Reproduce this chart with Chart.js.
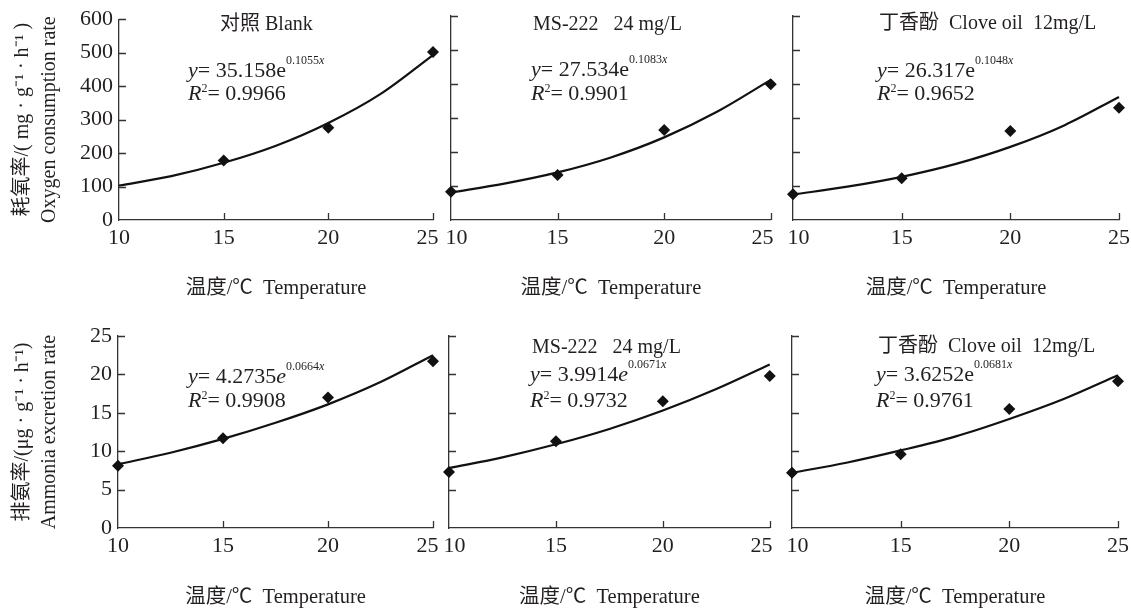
<!DOCTYPE html>
<html>
<head>
<meta charset="utf-8">
<script src="https://cdn.jsdelivr.net/npm/chart.js@4.4.0/dist/chart.umd.min.js"></script>
<style>
  html, body { margin: 0; padding: 0; background: #fff; }
  #wrap { position: relative; width: 1131px; height: 613px; overflow: hidden; }
  #wrap canvas { position: absolute; }
</style>
</head>
<body>
<div id="wrap"></div>
<script>
// temperatures (°C)
const temps = [10, 15, 20, 25];
const fitTemps = [10, 12.5, 15, 17.5, 20, 22.5, 25];
const tempTicks = [10, 15, 20, 25];
const oxyTicks = [0, 100, 200, 300, 400, 500, 600];
const ammTicks = [0, 5, 10, 15, 20, 25];

// Oxygen consumption rate (measured)
const oxyBlank = [null, 178, 276, 502];
const oxyMs222 = [83, 132, 265, 399];
const oxyClove = [76, 123, 262, 330];
// fitted curves
const oxyBlankFit = [103, 131, 171, 222, 290, 377, 493];
const oxyMs222Fit = [81, 107, 140, 184, 243, 319, 412];
const oxyCloveFit = [75, 98, 127, 165, 215, 279, 362];

// Ammonia excretion rate (measured)
const ammBlank = [8.1, 11.7, 17.0, 21.7];
const ammMs222 = [7.3, 11.3, 16.5, 19.8];
const ammClove = [7.2, 9.6, 15.5, 19.1];
const ammBlankFit = [8.3, 9.8, 11.6, 13.7, 16.1, 19.0, 22.5];
const ammMs222Fit = [7.8, 9.2, 10.9, 12.9, 15.3, 18.1, 21.3];
const ammCloveFit = [7.2, 8.5, 10.1, 11.9, 14.2, 16.8, 19.9];

// labels and regression text
const groupNames = ['对照 Blank', 'MS-222   24 mg/L', '丁香酚  Clove oil  12mg/L'];
const oxyCoef = ['35.158', '27.534', '26.317'];
const oxyExp = ['0.1055', '0.1083', '0.1048'];
const oxyR2 = ['0.9966', '0.9901', '0.9652'];
const ammCoef = ['4.2735', '3.9914', '3.6252'];
const ammExp = ['0.0664', '0.0671', '0.0681'];
const ammR2 = ['0.9908', '0.9732', '0.9761'];

const SERIF = '"Liberation Serif", "Times New Roman", "Noto Sans CJK SC", serif';
const INK = '#231f20';
const wrap = document.getElementById('wrap');

function drawRich(ctx, x, y, parts) {
  for (const p of parts) {
    const size = p.size || (p.sup ? 12 : 22);
    ctx.font = (p.i ? 'italic ' : '') + size + 'px ' + SERIF;
    ctx.fillText(p.t, x, y - (p.raise || 0));
    x += ctx.measureText(p.t).width;
  }
}

// ticks pointing into the plot area
const inwardTicks = {
  id: 'inwardTicks',
  afterDatasetsDraw(chart) {
    const { ctx, chartArea: a, scales: { x, y } } = chart;
    ctx.save();
    ctx.strokeStyle = '#333';
    ctx.lineWidth = 1.3;
    ctx.beginPath();
    x.ticks.forEach(t => {
      if (t.value === x.min) return;
      const px = Math.round(x.getPixelForValue(t.value)) + 0.5;
      ctx.moveTo(px, a.bottom);
      ctx.lineTo(px, a.bottom - 7);
    });
    y.ticks.forEach(t => {
      if (t.value === y.min) return;
      const py = Math.round(y.getPixelForValue(t.value)) + 0.5;
      ctx.moveTo(a.left, py);
      ctx.lineTo(a.left + 7, py);
    });
    ctx.stroke();
    ctx.restore();
  }
};

function makePanel(p) {
  const canvasLeft = p.left - p.padL;
  const width = p.right - canvasLeft + 22;
  const canvas = document.createElement('canvas');
  canvas.width = width;
  canvas.height = p.height;
  canvas.style.left = canvasLeft + 'px';
  canvas.style.top = p.top + 'px';
  canvas.style.width = width + 'px';
  canvas.style.height = p.height + 'px';
  wrap.appendChild(canvas);

  const textPlugin = {
    id: 'panelText',
    afterDraw(chart) {
      const ctx = chart.ctx;
      ctx.save();
      ctx.fillStyle = INK;
      ctx.textBaseline = 'alphabetic';
      ctx.textAlign = 'left';
      p.texts.forEach(t => drawRich(ctx, t.x - canvasLeft, t.y - p.top, t.parts));
      ctx.restore();
    }
  };

  new Chart(canvas, {
    type: 'scatter',
    data: {
      datasets: [
        {
          data: fitTemps.map((t, i) => ({ x: t, y: p.fit[i] })),
          showLine: true,
          borderColor: '#111',
          borderWidth: 2.2,
          pointRadius: 0,
          cubicInterpolationMode: 'monotone',
          clip: false,
          order: 2
        },
        {
          data: temps.map((t, i) => ({ x: t, y: p.pts[i] })),
          showLine: false,
          pointStyle: 'rectRot',
          pointRadius: 6,
          backgroundColor: '#111',
          borderColor: '#111',
          borderWidth: 0,
          clip: false,
          order: 1
        }
      ]
    },
    options: {
      responsive: false,
      animation: false,
      events: [],
      layout: { padding: { top: p.plotTop - p.top, right: 22, left: 0, bottom: 0 } },
      plugins: { legend: { display: false }, tooltip: { enabled: false } },
      scales: {
        x: {
          type: 'linear',
          min: 10,
          max: 25,
          afterBuildTicks: s => { s.ticks = tempTicks.map(v => ({ value: v })); },
          afterFit: s => { s.height = p.height - (p.plotBottom - p.top); },
          grid: { display: false, drawTicks: false },
          border: { display: true, color: '#333', width: 1.3 },
          ticks: {
            color: INK,
            padding: 5,
            font: { family: SERIF, size: 22 },
            // nudge the end labels apart where neighbouring panels meet
            callback: v => (v === 10 ? p.firstPad : '') + v + (v === 25 ? p.lastPad : '')
          },
          title: {
            display: true,
            text: '温度/℃  Temperature',
            color: INK,
            font: { family: SERIF, size: 20.5 },
            padding: { top: 0, bottom: p.xTitlePad }
          }
        },
        y: {
          type: 'linear',
          min: 0,
          max: p.ymax,
          afterBuildTicks: s => { s.ticks = p.yTicks.map(v => ({ value: v })); },
          afterFit: s => { s.width = p.padL; },
          grid: { display: false, drawTicks: false },
          border: { display: true, color: '#333', width: 1.3 },
          ticks: { display: p.showY, color: INK, padding: 6, font: { family: SERIF, size: 22 } },
          title: {
            display: p.showY,
            text: p.yTitle,
            color: INK,
            font: { family: SERIF, size: 20, lineHeight: 1.35 },
            padding: { top: 9, bottom: 0 }
          }
        }
      }
    },
    plugins: [inwardTicks, textPlugin]
  });
}

function eqParts(coef, exp, italicE) {
  return [
    { t: 'y', i: true }, { t: '= ' + coef }, { t: 'e', i: italicE },
    { t: exp, sup: true, raise: 13 }, { t: 'x', sup: true, i: true, raise: 13 }
  ];
}
function r2Parts(r2) {
  return [{ t: 'R', i: true }, { t: '2', sup: true, raise: 8 }, { t: '= ' + r2 }];
}

const topLefts = [119, 451, 793], topRights = [433, 773, 1119];
const botLefts = [118, 449, 792], botRights = [433, 772, 1118];
const firstPads = ['', '  ', '  '], lastPads = ['  ', '   ', ''];
const oxyPts = [oxyBlank, oxyMs222, oxyClove];
const oxyFits = [oxyBlankFit, oxyMs222Fit, oxyCloveFit];
const ammPts = [ammBlank, ammMs222, ammClove];
const ammFits = [ammBlankFit, ammMs222Fit, ammCloveFit];

// text anchors (page px): title x/baseline, equation x/baseline, R2 baseline
const topText = [
  { tx: 220, ty: 30, ex: 188, ey: 77, ry: 100 },
  { tx: 533, ty: 30, ex: 531, ey: 76, ry: 100 },
  { tx: 879, ty: 29, ex: 877, ey: 77, ry: 100 }
];
const botText = [
  { tx: null, ty: 0, ex: 188, ey: 383, ry: 407 },
  { tx: 532, ty: 353, ex: 530, ey: 381, ry: 407 },
  { tx: 878, ty: 352, ex: 876, ey: 381, ry: 407 }
];

for (let c = 0; c < 3; c++) {
  const tt = topText[c];
  makePanel({
    left: topLefts[c], right: topRights[c], padL: c === 0 ? topLefts[0] : 30,
    top: 0, height: 306, plotTop: 16, plotBottom: 220, xTitlePad: 5,
    ymax: 600, yTicks: oxyTicks, showY: c === 0,
    firstPad: firstPads[c], lastPad: lastPads[c],
    yTitle: ['耗氧率/( mg · g⁻¹ · h⁻¹ )', 'Oxygen consumption rate'],
    pts: oxyPts[c], fit: oxyFits[c],
    texts: [
      { x: tt.tx, y: tt.ty, parts: [{ t: groupNames[c], size: 20 }] },
      { x: tt.ex, y: tt.ey, parts: eqParts(oxyCoef[c], oxyExp[c], false) },
      { x: tt.ex, y: tt.ry, parts: r2Parts(oxyR2[c]) }
    ]
  });
  const bt = botText[c];
  const btexts = [
    { x: bt.ex, y: bt.ey, parts: eqParts(ammCoef[c], ammExp[c], c < 2) },
    { x: bt.ex, y: bt.ry, parts: r2Parts(ammR2[c]) }
  ];
  if (bt.tx !== null) btexts.push({ x: bt.tx, y: bt.ty, parts: [{ t: groupNames[c], size: 20 }] });
  makePanel({
    left: botLefts[c], right: botRights[c], padL: c === 0 ? botLefts[0] : 30,
    top: 306, height: 307, plotTop: 336, plotBottom: 528, xTitlePad: 3,
    ymax: 25, yTicks: ammTicks, showY: c === 0,
    firstPad: firstPads[c], lastPad: lastPads[c],
    yTitle: ['排氨率/(μg · g⁻¹ · h⁻¹)', 'Ammonia excretion rate'],
    pts: ammPts[c], fit: ammFits[c],
    texts: btexts
  });
}
</script>
</body>
</html>
